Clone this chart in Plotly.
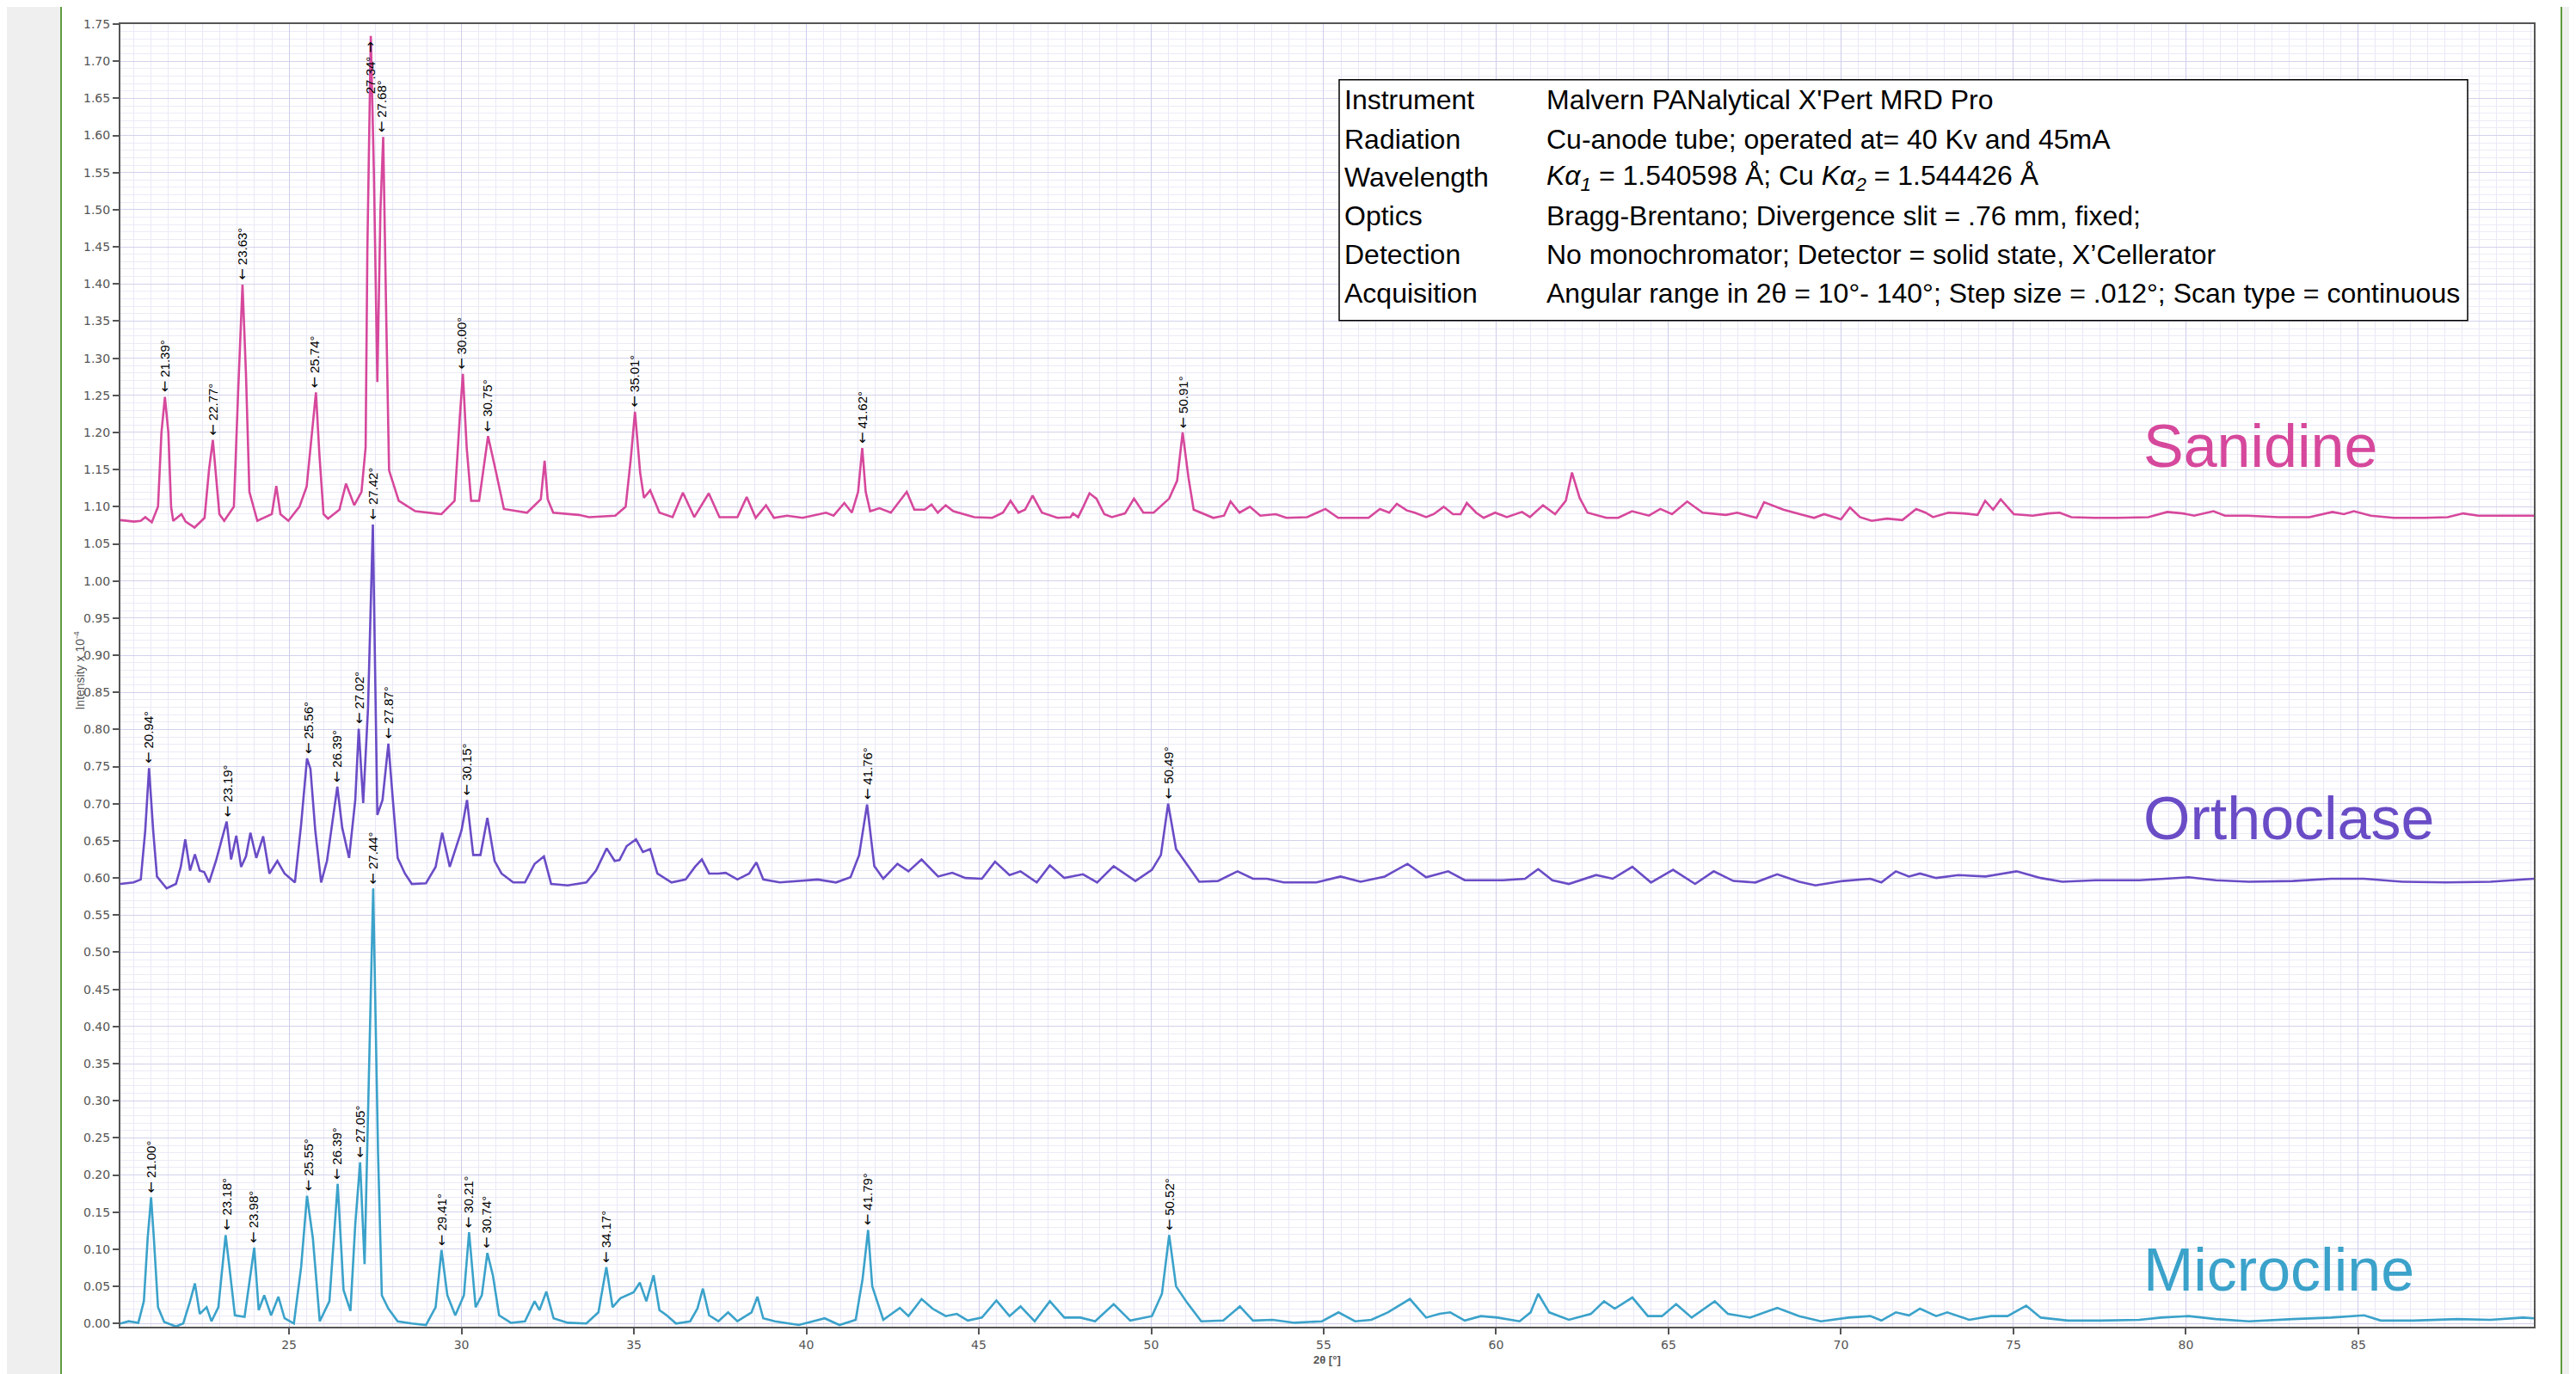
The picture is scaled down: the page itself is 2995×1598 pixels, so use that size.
import plotly.graph_objects as go

# ---------------- data ----------------
san_x = [20.11, 20.50, 20.70, 20.83, 21.02, 21.20, 21.30, 21.40, 21.50, 21.58, 21.64, 21.88, 22.00, 22.26,
         22.55, 22.68, 22.79, 22.88, 22.98, 23.12, 23.40, 23.52, 23.65, 23.75, 23.85, 24.08, 24.50, 24.63,
         24.75, 24.98, 25.30, 25.51, 25.65, 25.78, 25.88, 26.00, 26.13, 26.46, 26.65, 26.89, 27.10, 27.22,
         27.27, 27.37, 27.46, 27.56, 27.65, 27.73, 27.82, 27.90, 28.18, 28.66, 29.42, 29.80, 29.95, 30.04,
         30.15, 30.28, 30.51, 30.77, 30.99, 31.23, 31.90, 32.30, 32.41, 32.50, 32.66, 33.40, 33.70, 34.46,
         34.76, 34.91, 35.03, 35.18, 35.29, 35.47, 35.74, 36.12, 36.42, 36.75, 37.17, 37.48, 38.00, 38.27,
         38.53, 38.83, 39.06, 39.44, 39.89, 40.34, 40.57, 40.79, 41.10, 41.32, 41.50, 41.62, 41.72, 41.85,
         42.12, 42.45, 42.91, 43.13, 43.43, 43.63, 43.81, 44.04, 44.26, 44.87, 45.39, 45.70, 45.92, 46.15,
         46.34, 46.56, 46.83, 47.28, 47.66, 47.73, 47.88, 48.03, 48.21, 48.41, 48.64, 48.86, 49.24, 49.50,
         49.77, 50.07, 50.52, 50.75, 50.91, 51.08, 51.23, 51.80, 52.11, 52.30, 52.56, 52.86, 53.16, 53.61,
         53.92, 54.52, 55.05, 55.42, 55.97, 56.30, 56.63, 56.90, 57.12, 57.41, 57.64, 57.97, 58.19, 58.48,
         58.75, 58.97, 59.15, 59.42, 59.64, 59.97, 60.31, 60.75, 60.98, 61.36, 61.71, 62.02, 62.20, 62.42,
         62.65, 63.20, 63.54, 63.94, 64.43, 64.76, 65.10, 65.54, 65.99, 66.66, 66.99, 67.55, 67.77, 68.00,
         68.33, 68.88, 69.22, 69.51, 70.00, 70.26, 70.55, 70.89, 71.33, 71.78, 72.18, 72.45, 72.67, 73.11,
         73.56, 73.96, 74.18, 74.41, 74.63, 75.01, 75.56, 76.01, 76.34, 76.68, 77.35, 78.01, 78.91, 79.46,
         79.91, 80.24, 80.80, 81.13, 81.80, 82.69, 83.58, 84.25, 84.58, 84.87, 85.36, 86.03, 86.92, 87.59,
         88.04, 88.48, 89.15, 90.09]
san_y = [1.082, 1.080, 1.081, 1.086, 1.079, 1.100, 1.200, 1.248, 1.200, 1.100, 1.081, 1.090, 1.080, 1.072,
         1.085, 1.150, 1.190, 1.140, 1.090, 1.081, 1.100, 1.250, 1.399, 1.280, 1.120, 1.081, 1.090, 1.128,
         1.090, 1.081, 1.100, 1.127, 1.190, 1.254, 1.170, 1.090, 1.084, 1.096, 1.131, 1.102, 1.120, 1.180,
         1.445, 1.734, 1.550, 1.268, 1.500, 1.598, 1.350, 1.149, 1.108, 1.094, 1.090, 1.108, 1.220, 1.279,
         1.180, 1.108, 1.108, 1.195, 1.149, 1.097, 1.092, 1.110, 1.162, 1.110, 1.092, 1.089, 1.086, 1.088,
         1.100, 1.165, 1.228, 1.146, 1.112, 1.122, 1.092, 1.086, 1.119, 1.086, 1.118, 1.086, 1.086, 1.113,
         1.085, 1.102, 1.085, 1.088, 1.085, 1.090, 1.092, 1.088, 1.105, 1.092, 1.120, 1.179, 1.120, 1.094,
         1.098, 1.092, 1.120, 1.096, 1.096, 1.103, 1.092, 1.102, 1.094, 1.086, 1.085, 1.092, 1.108, 1.092,
         1.096, 1.115, 1.092, 1.085, 1.086, 1.091, 1.086, 1.100, 1.118, 1.111, 1.090, 1.086, 1.091, 1.111,
         1.092, 1.092, 1.111, 1.135, 1.200, 1.139, 1.096, 1.085, 1.088, 1.107, 1.092, 1.100, 1.088, 1.090,
         1.085, 1.086, 1.097, 1.085, 1.085, 1.085, 1.097, 1.092, 1.104, 1.095, 1.092, 1.086, 1.090, 1.100,
         1.090, 1.090, 1.105, 1.092, 1.085, 1.092, 1.086, 1.093, 1.086, 1.102, 1.090, 1.108, 1.146, 1.112,
         1.092, 1.085, 1.085, 1.094, 1.088, 1.097, 1.090, 1.107, 1.092, 1.089, 1.092, 1.085, 1.106, 1.102,
         1.096, 1.089, 1.085, 1.090, 1.083, 1.099, 1.086, 1.081, 1.084, 1.082, 1.097, 1.092, 1.086, 1.092,
         1.091, 1.089, 1.108, 1.096, 1.110, 1.090, 1.088, 1.091, 1.092, 1.086, 1.085, 1.085, 1.086, 1.093,
         1.091, 1.088, 1.094, 1.088, 1.088, 1.086, 1.086, 1.093, 1.090, 1.094, 1.088, 1.085, 1.085, 1.086,
         1.091, 1.088, 1.088, 1.088]

ort_x = [20.11, 20.49, 20.70, 20.83, 20.94, 21.06, 21.17, 21.45, 21.72, 21.86, 21.99, 22.13, 22.27, 22.41,
         22.54, 22.68, 22.88, 23.06, 23.19, 23.32, 23.47, 23.61, 23.75, 23.88, 24.05, 24.25, 24.43, 24.66,
         24.87, 25.17, 25.35, 25.52, 25.62, 25.76, 25.93, 26.10, 26.30, 26.40, 26.54, 26.74, 26.92, 27.02,
         27.15, 27.29, 27.43, 27.56, 27.71, 27.88, 28.01, 28.15, 28.36, 28.56, 28.97, 29.25, 29.44, 29.66,
         30.00, 30.16, 30.34, 30.55, 30.75, 30.96, 31.16, 31.50, 31.84, 32.12, 32.39, 32.60, 33.08, 33.62,
         33.90, 34.21, 34.44, 34.58, 34.79, 35.06, 35.26, 35.47, 35.68, 36.09, 36.50, 36.77, 36.97, 37.18,
         37.45, 37.66, 38.00, 38.34, 38.55, 38.75, 39.23, 39.78, 40.33, 40.86, 41.28, 41.53, 41.76, 41.97,
         42.23, 42.64, 42.96, 43.34, 43.82, 44.23, 44.61, 45.09, 45.47, 45.89, 46.21, 46.68, 47.06, 47.48,
         48.02, 48.43, 48.91, 49.54, 50.02, 50.28, 50.49, 50.72, 51.07, 51.39, 51.93, 52.50, 52.95, 53.36,
         53.84, 54.79, 55.49, 56.07, 56.77, 57.43, 57.97, 58.61, 59.09, 60.20, 60.84, 61.22, 61.63, 62.11,
         62.90, 63.38, 63.95, 64.49, 65.13, 65.77, 66.31, 66.88, 67.52, 68.15, 68.79, 69.26, 70.06, 70.85,
         71.17, 71.59, 71.97, 72.29, 72.76, 73.40, 74.19, 75.09, 75.79, 76.42, 77.38, 78.65, 80.08, 80.87,
         81.83, 83.10, 84.21, 85.17, 86.28, 87.55, 88.83, 90.09]
ort_y = [0.592, 0.594, 0.598, 0.664, 0.748, 0.664, 0.602, 0.586, 0.592, 0.615, 0.652, 0.610, 0.632, 0.610,
         0.608, 0.594, 0.623, 0.652, 0.676, 0.625, 0.657, 0.615, 0.629, 0.661, 0.627, 0.656, 0.606, 0.623,
         0.606, 0.594, 0.672, 0.761, 0.747, 0.664, 0.594, 0.623, 0.693, 0.723, 0.668, 0.627, 0.705, 0.801,
         0.701, 0.829, 1.076, 0.685, 0.705, 0.781, 0.705, 0.627, 0.606, 0.592, 0.593, 0.615, 0.661, 0.615,
         0.664, 0.705, 0.631, 0.631, 0.681, 0.623, 0.606, 0.594, 0.594, 0.619, 0.629, 0.592, 0.590, 0.594,
         0.610, 0.640, 0.623, 0.624, 0.643, 0.652, 0.635, 0.639, 0.606, 0.594, 0.598, 0.615, 0.625, 0.606,
         0.606, 0.607, 0.598, 0.606, 0.621, 0.598, 0.594, 0.596, 0.598, 0.594, 0.601, 0.631, 0.699, 0.616,
         0.599, 0.619, 0.609, 0.625, 0.602, 0.607, 0.600, 0.599, 0.622, 0.604, 0.609, 0.594, 0.617, 0.600,
         0.605, 0.594, 0.616, 0.596, 0.611, 0.631, 0.700, 0.639, 0.616, 0.595, 0.596, 0.609, 0.599, 0.599,
         0.594, 0.594, 0.602, 0.595, 0.602, 0.619, 0.601, 0.609, 0.597, 0.597, 0.599, 0.612, 0.597, 0.592,
         0.604, 0.599, 0.615, 0.594, 0.611, 0.592, 0.609, 0.596, 0.594, 0.605, 0.595, 0.590, 0.596, 0.599,
         0.594, 0.609, 0.602, 0.606, 0.600, 0.604, 0.602, 0.609, 0.600, 0.595, 0.597, 0.597, 0.601, 0.597,
         0.595, 0.596, 0.599, 0.599, 0.595, 0.594, 0.595, 0.599]

mic_x = [20.11, 20.35, 20.63, 20.79, 20.90, 21.00, 21.08, 21.20, 21.38, 21.72, 21.93, 22.13, 22.27, 22.41,
         22.61, 22.75, 22.95, 23.06, 23.16, 23.27, 23.43, 23.71, 23.88, 23.99, 24.12, 24.28, 24.48, 24.69,
         24.87, 25.14, 25.35, 25.52, 25.69, 25.89, 26.17, 26.30, 26.41, 26.58, 26.78, 26.92, 27.06, 27.19,
         27.33, 27.44, 27.58, 27.69, 27.88, 28.15, 28.56, 28.97, 29.25, 29.42, 29.59, 29.82, 30.07, 30.22,
         30.41, 30.59, 30.75, 30.91, 31.09, 31.43, 31.84, 32.12, 32.26, 32.46, 32.67, 33.08, 33.62, 33.97,
         34.20, 34.38, 34.61, 34.79, 34.99, 35.17, 35.36, 35.57, 35.74, 35.95, 36.22, 36.63, 36.84, 37.00,
         37.18, 37.45, 37.73, 38.00, 38.41, 38.58, 38.75, 39.09, 39.37, 39.78, 40.19, 40.53, 40.96, 41.43,
         41.63, 41.79, 41.91, 42.23, 42.71, 42.96, 43.34, 43.66, 44.04, 44.36, 44.68, 45.09, 45.51, 45.89,
         46.21, 46.62, 47.06, 47.48, 47.95, 48.37, 48.91, 49.39, 50.02, 50.31, 50.52, 50.72, 51.04, 51.45,
         52.09, 52.57, 52.95, 53.52, 54.16, 54.95, 55.43, 55.91, 56.38, 56.86, 57.50, 57.97, 58.36, 58.67,
         59.09, 59.56, 60.04, 60.68, 61.00, 61.22, 61.54, 62.11, 62.75, 63.13, 63.44, 63.95, 64.40, 64.81,
         65.22, 65.67, 66.34, 66.72, 67.36, 68.15, 68.79, 69.42, 70.22, 70.85, 71.17, 71.59, 71.97, 72.29,
         72.76, 73.08, 73.72, 74.35, 74.83, 75.37, 75.79, 76.58, 77.53, 78.65, 79.28, 80.08, 80.87, 81.83,
         83.10, 84.21, 85.17, 85.65, 86.60, 87.87, 88.83, 89.78, 90.09]
mic_y = [0.000, 0.003, 0.001, 0.030, 0.115, 0.170, 0.115, 0.022, 0.002, -0.004, 0.000, 0.030, 0.054, 0.013,
         0.022, 0.003, 0.022, 0.076, 0.119, 0.076, 0.011, 0.009, 0.065, 0.102, 0.018, 0.038, 0.011, 0.036,
         0.007, 0.000, 0.076, 0.172, 0.115, 0.003, 0.030, 0.115, 0.188, 0.045, 0.017, 0.134, 0.217, 0.080,
         0.346, 0.586, 0.230, 0.038, 0.020, 0.003, 0.000, -0.002, 0.022, 0.099, 0.038, 0.011, 0.038, 0.123,
         0.022, 0.038, 0.095, 0.065, 0.011, 0.001, 0.003, 0.030, 0.018, 0.043, 0.007, 0.001, 0.000, 0.015,
         0.076, 0.022, 0.034, 0.038, 0.042, 0.055, 0.030, 0.065, 0.018, 0.011, 0.000, 0.003, 0.020, 0.047,
         0.011, 0.003, 0.015, 0.003, 0.015, 0.036, 0.007, 0.003, 0.001, -0.002, 0.003, 0.007, -0.002, 0.005,
         0.060, 0.126, 0.050, 0.005, 0.021, 0.010, 0.033, 0.020, 0.010, 0.013, 0.004, 0.008, 0.031, 0.010,
         0.023, 0.003, 0.030, 0.008, 0.008, 0.003, 0.026, 0.004, 0.010, 0.040, 0.119, 0.050, 0.028, 0.003,
         0.004, 0.023, 0.004, 0.005, 0.001, 0.003, 0.015, 0.003, 0.005, 0.015, 0.033, 0.008, 0.013, 0.015,
         0.004, 0.010, 0.008, 0.003, 0.015, 0.040, 0.015, 0.005, 0.013, 0.030, 0.020, 0.035, 0.010, 0.010,
         0.026, 0.008, 0.030, 0.013, 0.008, 0.021, 0.010, 0.003, 0.008, 0.010, 0.004, 0.015, 0.011, 0.020,
         0.010, 0.015, 0.005, 0.010, 0.010, 0.024, 0.008, 0.004, 0.004, 0.005, 0.008, 0.010, 0.006, 0.003,
         0.006, 0.008, 0.011, 0.004, 0.004, 0.006, 0.005, 0.008, 0.007]

# peak labels: angle (2θ) and peak height
san_pk_x = [21.39, 22.77, 23.63, 25.74, 27.68, 30.00, 30.75, 35.01, 41.62, 50.91]
san_pk_y = [1.248, 1.190, 1.399, 1.254, 1.598, 1.279, 1.195, 1.228, 1.179, 1.200]
san_top_x = 27.34
san_top_y = 1.734
ort_pk_x = [20.94, 23.19, 25.56, 26.39, 27.02, 27.42, 27.87, 30.15, 41.76, 50.49]
ort_pk_y = [0.748, 0.676, 0.761, 0.723, 0.801, 1.076, 0.781, 0.705, 0.699, 0.700]
mic_pk_x = [21.00, 23.18, 23.98, 25.55, 26.39, 27.05, 27.44, 29.41, 30.21, 30.74, 34.17, 41.79, 50.52]
mic_pk_y = [0.170, 0.119, 0.102, 0.172, 0.188, 0.217, 0.586, 0.099, 0.123, 0.095, 0.076, 0.126, 0.119]

x_ticks = [25, 30, 35, 40, 45, 50, 55, 60, 65, 70, 75, 80, 85]

info_keys = ["Instrument", "Radiation", "Wavelength", "Optics", "Detection", "Acquisition"]
info_vals = ["Malvern PANalytical X'Pert MRD Pro",
             "Cu-anode tube; operated at= 40 Kv and 45mA",
             "<i>Kα<sub>1</sub></i> = 1.540598 Å; Cu <i>Kα<sub>2</sub></i> = 1.544426 Å",
             "Bragg-Brentano; Divergence slit = .76 mm, fixed;",
             "No monochromator; Detector = solid state, X’Cellerator",
             "Angular range in 2θ = 10°- 140°; Step size = .012°; Scan type = continuous"]

series_names = ["Sanidine", "Orthoclase", "Microcline"]
colors = ["#D6489C", "#6A4CC6", "#3BA2CA"]

# ---------------- layout helpers (screen pixel -> paper) ----------------
# the page body has an 8 px default margin, so the figure is 8 px smaller and
# its margins are 8 px smaller on the left/top
OFF = 8
SW, SH = 2995, 1598
PL, PR, PT, PB = 140, 2946, 23, 1543          # plot area in screen pixels
W, H = SW - OFF, SH - OFF
ML, MT = PL - OFF, PT - OFF
MR, MB = SW - PR, SH - PB
PW, PH = PR - PL, PB - PT


def px(x):
    return (x - PL) / PW


def py(y):
    return (PB - y) / PH


FONT = "Liberation Sans, Arial, Helvetica, sans-serif"
TICKFONT = "DejaVu Sans, Verdana, sans-serif"
ARROW = "<span style='font-family:DejaVu Sans;font-size:16px'>{}</span>"

fig = go.Figure()
for xs, ys, name, c in zip([san_x, ort_x, mic_x], [san_y, ort_y, mic_y], series_names, colors):
    fig.add_trace(go.Scatter(x=xs, y=ys, mode="lines", name=name,
                             line=dict(color=c, width=2.6), hoverinfo="skip"))

ann = []
# peak labels
for xs, ys in [(san_pk_x, san_pk_y), (ort_pk_x, ort_pk_y), (mic_pk_x, mic_pk_y)]:
    for xv, yv in zip(xs, ys):
        ann.append(dict(x=xv, y=yv, xref="x", yref="y",
                        text=ARROW.format("←") + f" {xv:.2f}°", showarrow=False,
                        textangle=-90, xanchor="center", yanchor="bottom", yshift=3,
                        font=dict(family=FONT, size=15, color="#000")))
ann.append(dict(x=san_top_x, y=san_top_y, xref="x", yref="y",
                text=f"{san_top_x:.2f}° " + ARROW.format("→"), showarrow=False,
                textangle=-90, xanchor="center", yanchor="top", yshift=-4,
                font=dict(family=FONT, size=15, color="#000")))

# series names
for name, c, yc in zip(series_names, colors, [516, 950, 1477]):
    ann.append(dict(x=px(2490), y=py(yc), xref="paper", yref="paper", text=name, showarrow=False,
                    xanchor="left", yanchor="middle", font=dict(family=FONT, size=70, color=c)))

# info box
row_y = [111.7, 157.3, 201.7, 246.7, 291.7, 336.7]
for k, v, yy in zip(info_keys, info_vals, row_y):
    ann.append(dict(x=px(1561), y=py(yy), xref="paper", yref="paper", text=k, showarrow=False,
                    xanchor="left", yanchor="middle", font=dict(family=FONT, size=32, color="#000")))
    ann.append(dict(x=px(1796), y=py(yy), xref="paper", yref="paper", text=v, showarrow=False,
                    xanchor="left", yanchor="middle", font=dict(family=FONT, size=32, color="#000")))

# axis titles
ann.append(dict(x=px(92), y=py(777), xref="paper", yref="paper", text="Intensity x 10<sup>-4</sup>",
                showarrow=False, textangle=-90, xanchor="center", yanchor="middle",
                font=dict(family=FONT, size=14, color="#555")))
ann.append(dict(x=0.5, y=py(1582), xref="paper", yref="paper", text="<b>2θ [°]</b>",
                showarrow=False, xanchor="center", yanchor="middle",
                font=dict(family=FONT, size=13, color="#555")))

shapes = [
    dict(type="rect", xref="paper", yref="paper", x0=px(72), x1=px(2977), y0=-1, y1=2,
         fillcolor="white", line=dict(width=0), layer="below"),
    dict(type="line", xref="paper", yref="paper", x0=px(71), x1=px(71), y0=-1, y1=2,
         line=dict(color="#5E9C3E", width=2)),
    dict(type="line", xref="paper", yref="paper", x0=px(2978), x1=px(2978), y0=-1, y1=2,
         line=dict(color="#5E9C3E", width=2)),
    dict(type="rect", xref="paper", yref="paper", x0=px(1557), x1=px(2869), y0=py(369), y1=py(88),
         fillcolor="white", line=dict(color="#000", width=1.5), layer="above"),
]

fig.update_layout(
    width=W, height=H,
    margin=dict(l=ML, r=MR, t=MT, b=MB, pad=0),
    paper_bgcolor="#EFEFEF", plot_bgcolor="white",
    showlegend=False,
    annotations=ann, shapes=shapes,
    xaxis=dict(range=[20.11, 90.09], tickvals=x_ticks, ticks="outside", ticklen=7, tickwidth=1.5,
               tickcolor="#555", showline=True, linecolor="#555", linewidth=2, mirror=True,
               showgrid=True, gridcolor="#CDCDEA", gridwidth=1.2, zeroline=False,
               minor=dict(tick0=0, dtick=0.5, showgrid=True, gridcolor="#E9E9F7", gridwidth=1),
               tickfont=dict(family=TICKFONT, size=14, color="#555")),
    yaxis=dict(range=[-0.0043, 1.75], tick0=0, dtick=0.05, tickformat=".2f", ticks="outside",
               ticklen=7, tickwidth=1.5, tickcolor="#555", showline=True, linecolor="#555",
               linewidth=2, mirror=True, showgrid=True, gridcolor="#D2D2EC", gridwidth=1.2,
               zeroline=False,
               minor=dict(tick0=0, dtick=0.01, showgrid=True, gridcolor="#EBEBF8", gridwidth=1),
               tickfont=dict(family=TICKFONT, size=14, color="#555")),
)

fig.write_html("out.html")
